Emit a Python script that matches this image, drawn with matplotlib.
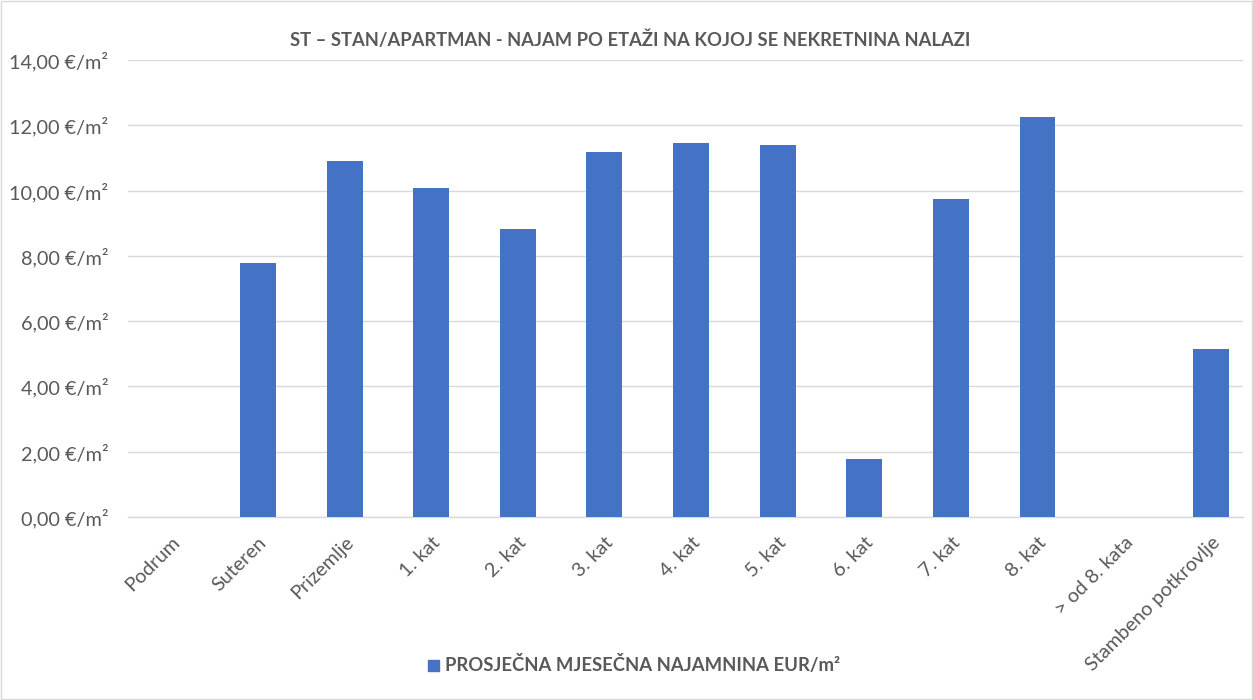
import matplotlib
matplotlib.use("Agg")
import matplotlib.pyplot as plt
from matplotlib.patches import Rectangle
from matplotlib.ticker import FuncFormatter, MultipleLocator

categories = ["Podrum", "Suteren", "Prizemlje", "1. kat", "2. kat", "3. kat", "4. kat",
              "5. kat", "6. kat", "7. kat", "8. kat", "> od 8. kata", "Stambeno potkrovlje"]
values = [0, 7.78, 10.91, 10.08, 8.82, 11.18, 11.46, 11.40, 1.78, 9.74, 12.25, 0, 5.15]
series_name = "PROSJEČNA MJESEČNA NAJAMNINA EUR/m²"
title = "ST – STAN/APARTMAN - NAJAM PO ETAŽI NA KOJOJ SE NEKRETNINA NALAZI"

plt.rcParams['font.family'] = ['Lato', 'DejaVu Sans']
text_color = "#595959"
bar_color = "#4472C4"

fig = plt.figure(figsize=(12.53, 7.0), dpi=100)
fig.patches.append(Rectangle((0.0005, 0.001), 0.999, 0.998, transform=fig.transFigure,
                             fill=False, edgecolor="#D9D9D9", linewidth=1))
left_px, right_px, cat_px = 128, 1243, 86.62
ax = fig.add_axes([left_px/1253, 1-517/700, (right_px-left_px)/1253, (517-60)/700])

x = list(range(len(categories)))
bars = ax.bar(x, values, width=0.415, color=bar_color, zorder=3)
for b in bars:
    b.set_clip_on(False)
ax.set_xlim(-0.5, (right_px-left_px)/cat_px - 0.5)
ax.set_ylim(0, 14)
ax.yaxis.set_major_locator(MultipleLocator(2))
ax.yaxis.set_major_formatter(FuncFormatter(lambda v, p: f"{v:.2f}".replace(".", ",") + " €/m²"))
ax.grid(axis="y", color="#D9D9D9", linewidth=1, zorder=0)
for s in ["top", "right", "left"]:
    ax.spines[s].set_visible(False)
ax.spines["bottom"].set_color("#D9D9D9")
ax.spines["bottom"].set_linewidth(1)
ax.tick_params(axis="both", length=0, colors=text_color, labelsize=14.3)
ax.tick_params(axis="y", pad=14)
ax.set_xticks(x)
ax.set_xticklabels(categories, rotation=45, ha="right", rotation_mode="anchor")
ax.tick_params(axis="x", pad=12)

fig.text(0.5027, 1-40/700, title, ha="center", va="center", fontsize=13.2,
         fontweight="bold", color=text_color)

fig.patches.append(Rectangle((428/1253, 1-671/700), 11/1253, 11/700, transform=fig.transFigure,
                             color=bar_color))
fig.text(445/1253, 1-665/700, series_name, ha="left", va="center", fontsize=13.3,
         fontweight="bold", color=text_color)

fig.savefig("out.png", dpi=100)
